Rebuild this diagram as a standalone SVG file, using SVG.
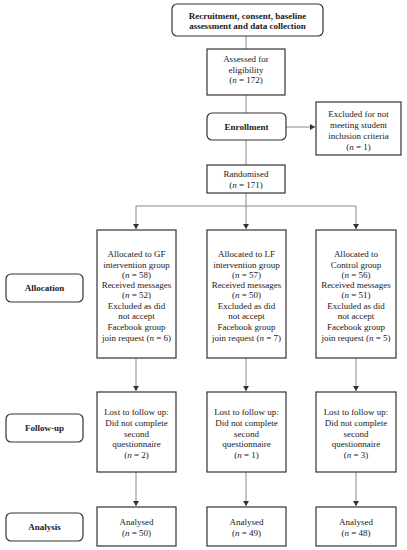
<svg xmlns="http://www.w3.org/2000/svg" width="407" height="550" viewBox="0 0 407 550">
<style>
.b{fill:#fff;stroke:#333;stroke-width:1.2}
.t{font-family:"Liberation Serif",serif;font-size:9px;fill:#1a1a1a;text-anchor:middle}
.bd{font-weight:bold}
.c{stroke:#888;stroke-width:1;fill:none}
</style>
<defs>
<marker id="a" markerWidth="6" markerHeight="6" refX="5" refY="3" orient="auto" markerUnits="userSpaceOnUse">
<path d="M0,0 L5,3 L0,6 Z" fill="#333"/>
</marker>
</defs>
<rect width="407" height="550" fill="#fff"/>
<g id="connectors">
<line class="c" x1="246" y1="36" x2="246" y2="49"/>
<line class="c" x1="246" y1="95" x2="246" y2="113"/>
<line class="c" x1="286" y1="127" x2="315" y2="127" marker-end="url(#a)"/>
<line class="c" x1="246" y1="140" x2="246" y2="165"/>
<line class="c" x1="246" y1="193" x2="246" y2="229" marker-end="url(#a)"/>
<polyline class="c" points="136,229 136,206 356,206 356,229"/>
<line class="c" x1="136" y1="224" x2="136" y2="229" marker-end="url(#a)"/>
<line class="c" x1="356" y1="224" x2="356" y2="229" marker-end="url(#a)"/>
<line class="c" x1="136" y1="358" x2="136" y2="391" marker-end="url(#a)"/>
<line class="c" x1="246" y1="358" x2="246" y2="391" marker-end="url(#a)"/>
<line class="c" x1="356" y1="358" x2="356" y2="391" marker-end="url(#a)"/>
<line class="c" x1="136" y1="472" x2="136" y2="506" marker-end="url(#a)"/>
<line class="c" x1="246" y1="472" x2="246" y2="506" marker-end="url(#a)"/>
<line class="c" x1="356" y1="472" x2="356" y2="506" marker-end="url(#a)"/>
</g>
<g id="recruitment">
<rect class="b" x="172" y="4" width="151" height="32" rx="5"/>
<text class="t bd" x="247.5" y="19">Recruitment, consent, baseline</text>
<text class="t bd" x="247.5" y="29">assessment and data collection</text>
</g>
<g id="assessed">
<rect class="b" x="207" y="49" width="78" height="46"/>
<text class="t" x="246" y="62">Assessed for</text>
<text class="t" x="246" y="72.5">eligibility</text>
<text class="t" x="246" y="83">(<tspan font-style="italic">n</tspan> = 172)</text>
</g>
<g id="enrollment">
<rect class="b" x="207" y="113" width="79" height="27" rx="5"/>
<text class="t bd" x="246.5" y="130">Enrollment</text>
</g>
<g id="excluded">
<rect class="b" x="316" y="102" width="85" height="53"/>
<text class="t" x="358.5" y="117">Excluded for not</text>
<text class="t" x="358.5" y="128">meeting student</text>
<text class="t" x="358.5" y="139">inclusion criteria</text>
<text class="t" x="358.5" y="150">(<tspan font-style="italic">n</tspan> = 1)</text>
</g>
<g id="randomised">
<rect class="b" x="207" y="165" width="78" height="28"/>
<text class="t" x="246" y="177">Randomised</text>
<text class="t" x="246" y="187.5">(<tspan font-style="italic">n</tspan> = 171)</text>
</g>
<g id="allocation">
<rect class="b" x="6" y="274" width="77" height="28" rx="5"/>
<text class="t bd" x="44.5" y="291">Allocation</text>
</g>
<g id="gf">
<rect class="b" x="97" y="230" width="79" height="128"/>
<text class="t" x="136.5" y="257">Allocated to GF</text>
<text class="t" x="136.5" y="267.5">intervention group</text>
<text class="t" x="136.5" y="278">(<tspan font-style="italic">n</tspan> = 58)</text>
<text class="t" x="136.5" y="288">Received messages</text>
<text class="t" x="136.5" y="298">(<tspan font-style="italic">n</tspan> = 52)</text>
<text class="t" x="136.5" y="308.5">Excluded as did</text>
<text class="t" x="136.5" y="319">not accept</text>
<text class="t" x="136.5" y="330">Facebook group</text>
<text class="t" x="136.5" y="340.5">join request (<tspan font-style="italic">n</tspan> = 6)</text>
</g>
<g id="lf">
<rect class="b" x="207" y="230" width="79" height="128"/>
<text class="t" x="246.5" y="257">Allocated to LF</text>
<text class="t" x="246.5" y="267.5">intervention group</text>
<text class="t" x="246.5" y="278">(<tspan font-style="italic">n</tspan> = 57)</text>
<text class="t" x="246.5" y="288">Received messages</text>
<text class="t" x="246.5" y="298">(<tspan font-style="italic">n</tspan> = 50)</text>
<text class="t" x="246.5" y="308.5">Excluded as did</text>
<text class="t" x="246.5" y="319">not accept</text>
<text class="t" x="246.5" y="330">Facebook group</text>
<text class="t" x="246.5" y="340.5">join request (<tspan font-style="italic">n</tspan> = 7)</text>
</g>
<g id="control">
<rect class="b" x="316" y="230" width="80" height="128"/>
<text class="t" x="356" y="257">Allocated to</text>
<text class="t" x="356" y="267.5">Control group</text>
<text class="t" x="356" y="278">(<tspan font-style="italic">n</tspan> = 56)</text>
<text class="t" x="356" y="288">Received messages</text>
<text class="t" x="356" y="298">(<tspan font-style="italic">n</tspan> = 51)</text>
<text class="t" x="356" y="308.5">Excluded as did</text>
<text class="t" x="356" y="319">not accept</text>
<text class="t" x="356" y="330">Facebook group</text>
<text class="t" x="356" y="340.5">join request (<tspan font-style="italic">n</tspan> = 5)</text>
</g>
<g id="followup">
<rect class="b" x="6" y="414" width="77" height="28" rx="5"/>
<text class="t bd" x="44.5" y="431">Follow-up</text>
</g>
<g id="fu-gf">
<rect class="b" x="97" y="392" width="79" height="80"/>
<text class="t" x="136.5" y="415">Lost to follow up:</text>
<text class="t" x="136.5" y="426">Did not complete</text>
<text class="t" x="136.5" y="436.5">second</text>
<text class="t" x="136.5" y="447">questionnaire</text>
<text class="t" x="136.5" y="457.5">(<tspan font-style="italic">n</tspan> = 2)</text>
</g>
<g id="fu-lf">
<rect class="b" x="207" y="392" width="79" height="80"/>
<text class="t" x="246.5" y="415">Lost to follow up:</text>
<text class="t" x="246.5" y="426">Did not complete</text>
<text class="t" x="246.5" y="436.5">second</text>
<text class="t" x="246.5" y="447">questionnaire</text>
<text class="t" x="246.5" y="457.5">(<tspan font-style="italic">n</tspan> = 1)</text>
</g>
<g id="fu-control">
<rect class="b" x="316" y="392" width="80" height="80"/>
<text class="t" x="356" y="415">Lost to follow up:</text>
<text class="t" x="356" y="426">Did not complete</text>
<text class="t" x="356" y="436.5">second</text>
<text class="t" x="356" y="447">questionnaire</text>
<text class="t" x="356" y="457.5">(<tspan font-style="italic">n</tspan> = 3)</text>
</g>
<g id="analysis">
<rect class="b" x="6" y="513" width="77" height="28" rx="5"/>
<text class="t bd" x="44.5" y="530">Analysis</text>
</g>
<g id="an-gf">
<rect class="b" x="97" y="507" width="79" height="39"/>
<text class="t" x="136.5" y="525">Analysed</text>
<text class="t" x="136.5" y="536">(<tspan font-style="italic">n</tspan> = 50)</text>
</g>
<g id="an-lf">
<rect class="b" x="207" y="507" width="79" height="39"/>
<text class="t" x="246.5" y="525">Analysed</text>
<text class="t" x="246.5" y="536">(<tspan font-style="italic">n</tspan> = 49)</text>
</g>
<g id="an-control">
<rect class="b" x="316" y="507" width="80" height="39"/>
<text class="t" x="356" y="525">Analysed</text>
<text class="t" x="356" y="536">(<tspan font-style="italic">n</tspan> = 48)</text>
</g>
</svg>
